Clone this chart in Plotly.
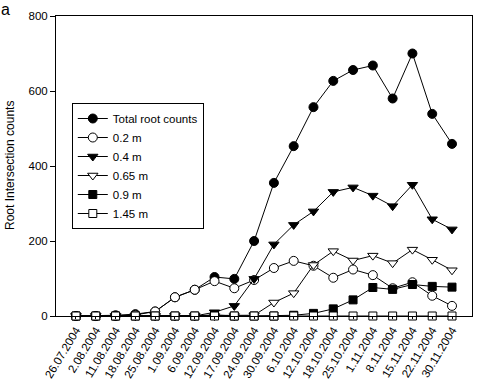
import plotly.graph_objects as go

dates = ["26.07.2004", "2.08.2004", "11.08.2004", "18.08.2004", "25.08.2004",
         "1.09.2004", "6.09.2004", "12.09.2004", "17.09.2004", "24.09.2004",
         "30.09.2004", "6.10.2004", "12.10.2004", "18.10.2004", "25.10.2004",
         "1.11.2004", "8.11.2004", "15.11.2004", "22.11.2004", "30.11.2004"]

total = [0, 0, 2, 5, 12, 50, 70, 104, 99, 200, 355, 453, 557, 627, 656, 668, 580, 700, 539, 459]
d020 = [0, 0, 0, 3, 12, 50, 70, 93, 74, 96, 128, 147, 134, 102, 124, 109, 74, 90, 54, 27]
d040 = [0, 0, 0, 0, 0, 0, 0, 10, 27, 99, 191, 243, 279, 331, 343, 321, 293, 350, 258, 231]
d065 = [0, 0, 0, 0, 0, 0, 0, 0, 0, 2, 36, 61, 136, 173, 148, 161, 141, 177, 150, 122]
d090 = [0, 0, 0, 0, 0, 0, 0, 3, 0, 0, 0, 2, 7, 19, 43, 76, 71, 84, 79, 77]
d145 = [0] * 20

series = [
    ("Total root counts", total, "circle", "black"),
    ("0.2 m", d020, "circle", "white"),
    ("0.4 m", d040, "triangle-down", "black"),
    ("0.65 m", d065, "triangle-down", "white"),
    ("0.9 m", d090, "square", "black"),
    ("1.45 m", d145, "square", "white"),
]

fig = go.Figure()
for name, vals, sym, fill in series:
    fig.add_trace(go.Scatter(
        x=dates, y=vals, name=name, mode="lines+markers",
        line=dict(color="black", width=1),
        marker=dict(symbol=sym, size=9 if sym != "square" else 8, color=fill,
                    line=dict(color="black", width=1)),
        cliponaxis=False,
    ))

fig.update_layout(
    width=502, height=384,
    margin=dict(l=56, r=30, t=16, b=68),
    paper_bgcolor="white", plot_bgcolor="white",
    font=dict(family="Liberation Sans, Arial, sans-serif", size=11, color="black"),
    showlegend=True,
    legend=dict(x=0.038, y=0.71, xanchor="left", yanchor="top",
                bordercolor="black", borderwidth=1, bgcolor="white",
                font=dict(size=11.5), tracegroupgap=0, itemwidth=30),
    annotations=[
        dict(text="a", x=0, y=1, xref="paper", yref="paper",
             xanchor="left", yanchor="top", showarrow=False, borderpad=0,
             font=dict(size=16), xshift=-56, yshift=16),
        dict(text="Root Intersection counts", x=0, y=0.5, xref="paper", yref="paper",
             xanchor="center", yanchor="middle", showarrow=False, textangle=-90,
             font=dict(size=12), xshift=-46),
    ],
)
fig.update_xaxes(type="category", range=[-1.01, 20.01], tickangle=-59,
                 showline=True, linecolor="black", linewidth=1, mirror=True,
                 showgrid=False, ticks="outside", ticklen=2, tickcolor="black",
                 tickfont=dict(size=11.5), automargin=False)
fig.update_yaxes(range=[0, 800], tickvals=[0, 200, 400, 600, 800],
                 showline=True, linecolor="black", linewidth=1, mirror=True,
                 showgrid=False, zeroline=False, ticks="outside", ticklen=5,
                 tickcolor="black", automargin=False, tickfont=dict(size=11.5))

fig.write_html("out.html", config={"displayModeBar": False},
               post_script="document.body.style.margin='0';")
